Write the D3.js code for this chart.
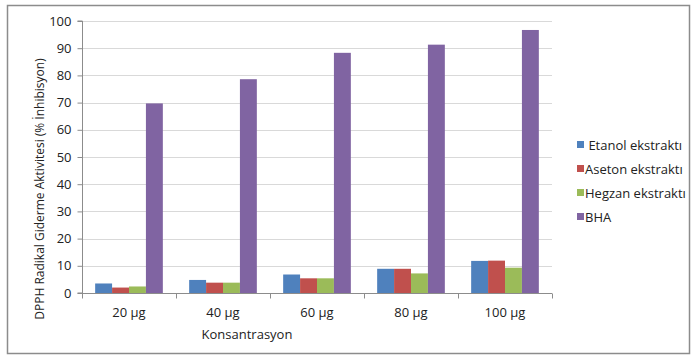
<!DOCTYPE html>
<html>
<head>
<meta charset="utf-8">
<script src="https://cdn.jsdelivr.net/npm/d3@7"></script>
<style>
  body { margin: 0; background: #fff; }
  svg text { font-family: 'Open Sans', sans-serif; fill: #222; }
</style>
</head>
<body>
<div id="container"></div>
<script>
var categories = ['20 µg', '40 µg', '60 µg', '80 µg', '100 µg']
var seriesNames = [' Etanol ekstraktı', 'Aseton ekstraktı', 'Hegzan ekstraktı', 'BHA']
var etanol = [3.5, 4.8, 6.8, 8.9, 11.8]
var aseton = [2.0, 3.8, 5.4, 8.9, 11.9]
var hegzan = [2.4, 3.8, 5.4, 7.2, 9.3]
var bha = [69.7, 78.6, 88.3, 91.3, 96.7]
var yTicks = [0, 10, 20, 30, 40, 50, 60, 70, 80, 90, 100]
var colors = ['#4f81bd', '#c0504d', '#9bbb59', '#8064a2']

var seriesValues = [etanol, aseton, hegzan, bha]

var chartWidth = 695
var chartHeight = 356
var plotLeft = 82
var plotRight = 552
var plotTop = 21
var plotBottom = 293

var svgContainer = d3.select('#container').append('svg')
    .attr('width', chartWidth)
    .attr('height', chartHeight)

// outer frame
svgContainer.append('rect')
    .attr('x', 7.5)
    .attr('y', 5.5)
    .attr('width', 682)
    .attr('height', 348)
    .attr('fill', 'none')
    .attr('stroke', '#8c8c8c')
    .attr('stroke-width', 1.5)

var y = d3.scaleLinear().domain([0, 100]).range([plotBottom, plotTop])
var x = d3.scaleBand().domain(categories).range([plotLeft, plotRight]).paddingInner(0.28).paddingOuter(0.14)
var xInner = d3.scaleBand().domain(d3.range(seriesNames.length)).range([0, x.bandwidth()])

// gridlines
svgContainer.selectAll('line.grid')
    .data(yTicks.filter(function(d){ return d > 0 }))
    .enter()
    .append('line')
    .attr('x1', plotLeft)
    .attr('x2', plotRight)
    .attr('y1', function(d){ return Math.round(y(d)) + 0.5 })
    .attr('y2', function(d){ return Math.round(y(d)) + 0.5 })
    .attr('stroke', '#d9d9d9')
    .attr('stroke-width', 1.2)

// bars
for(var s = 0; s < seriesValues.length; s++){
    svgContainer.selectAll('rect.s' + s)
        .data(seriesValues[s])
        .enter()
        .append('rect')
        .attr('class', 's' + s)
        .attr('x', function(d, i){ return x(categories[i]) + xInner(s) })
        .attr('y', function(d){ return y(d) })
        .attr('width', xInner.bandwidth())
        .attr('height', function(d){ return plotBottom - y(d) })
        .attr('fill', colors[s])
}

// y axis
var yAxis = svgContainer.append('g')
    .attr('transform', 'translate(' + (plotLeft + 0.5) + ',0)')
    .call(d3.axisLeft(y).tickValues(yTicks).tickSize(5).tickPadding(6))
yAxis.selectAll('path, line').attr('stroke', '#8c8c8c')
yAxis.select('.domain').attr('d', 'M-5,' + plotTop + 'H0V' + plotBottom + 'H-5')
yAxis.selectAll('text').attr('font-size', 13).style('font-family', "'Open Sans', sans-serif").attr('fill', '#222')

// x axis
var xAxisG = svgContainer.append('g')
    .attr('transform', 'translate(0,' + (plotBottom + 0.5) + ')')
xAxisG.append('line')
    .attr('x1', plotLeft)
    .attr('x2', plotRight)
    .attr('stroke', '#8c8c8c')
var step = x.step()
xAxisG.selectAll('line.tick')
    .data(d3.range(categories.length + 1))
    .enter()
    .append('line')
    .attr('x1', function(i){ return Math.round(plotLeft + i * step) + 0.5 })
    .attr('x2', function(i){ return Math.round(plotLeft + i * step) + 0.5 })
    .attr('y1', 0)
    .attr('y2', 5)
    .attr('stroke', '#8c8c8c')
xAxisG.selectAll('text')
    .data(categories)
    .enter()
    .append('text')
    .attr('x', function(d){ return x(d) + x.bandwidth() / 2 })
    .attr('y', 23)
    .attr('text-anchor', 'middle')
    .attr('font-size', 13)
    .text(function(d){ return d })

// axis titles
svgContainer.append('text')
    .attr('transform', 'translate(44,189) rotate(-90)')
    .attr('text-anchor', 'middle')
    .attr('font-size', 12)
    .text('DPPH Radikal Giderme Aktivitesi (% İnhibisyon)')

svgContainer.append('text')
    .attr('x', 247)
    .attr('y', 339)
    .attr('text-anchor', 'middle')
    .attr('font-size', 13)
    .text('Konsantrasyon')

// legend
var legend = svgContainer.selectAll('g.legend')
    .data(seriesNames)
    .enter()
    .append('g')
    .attr('transform', function(d, i){ return 'translate(577,' + (145 + i * 24) + ')' })
legend.append('rect')
    .attr('x', 0)
    .attr('y', -4)
    .attr('width', 7)
    .attr('height', 7)
    .attr('fill', function(d, i){ return colors[i] })
legend.append('text')
    .attr('x', 8)
    .attr('y', 4.5)
    .attr('font-size', 13)
    .attr('xml:space', 'preserve')
    .style('white-space', 'pre')
    .text(function(d){ return d })
</script>
</body>
</html>
